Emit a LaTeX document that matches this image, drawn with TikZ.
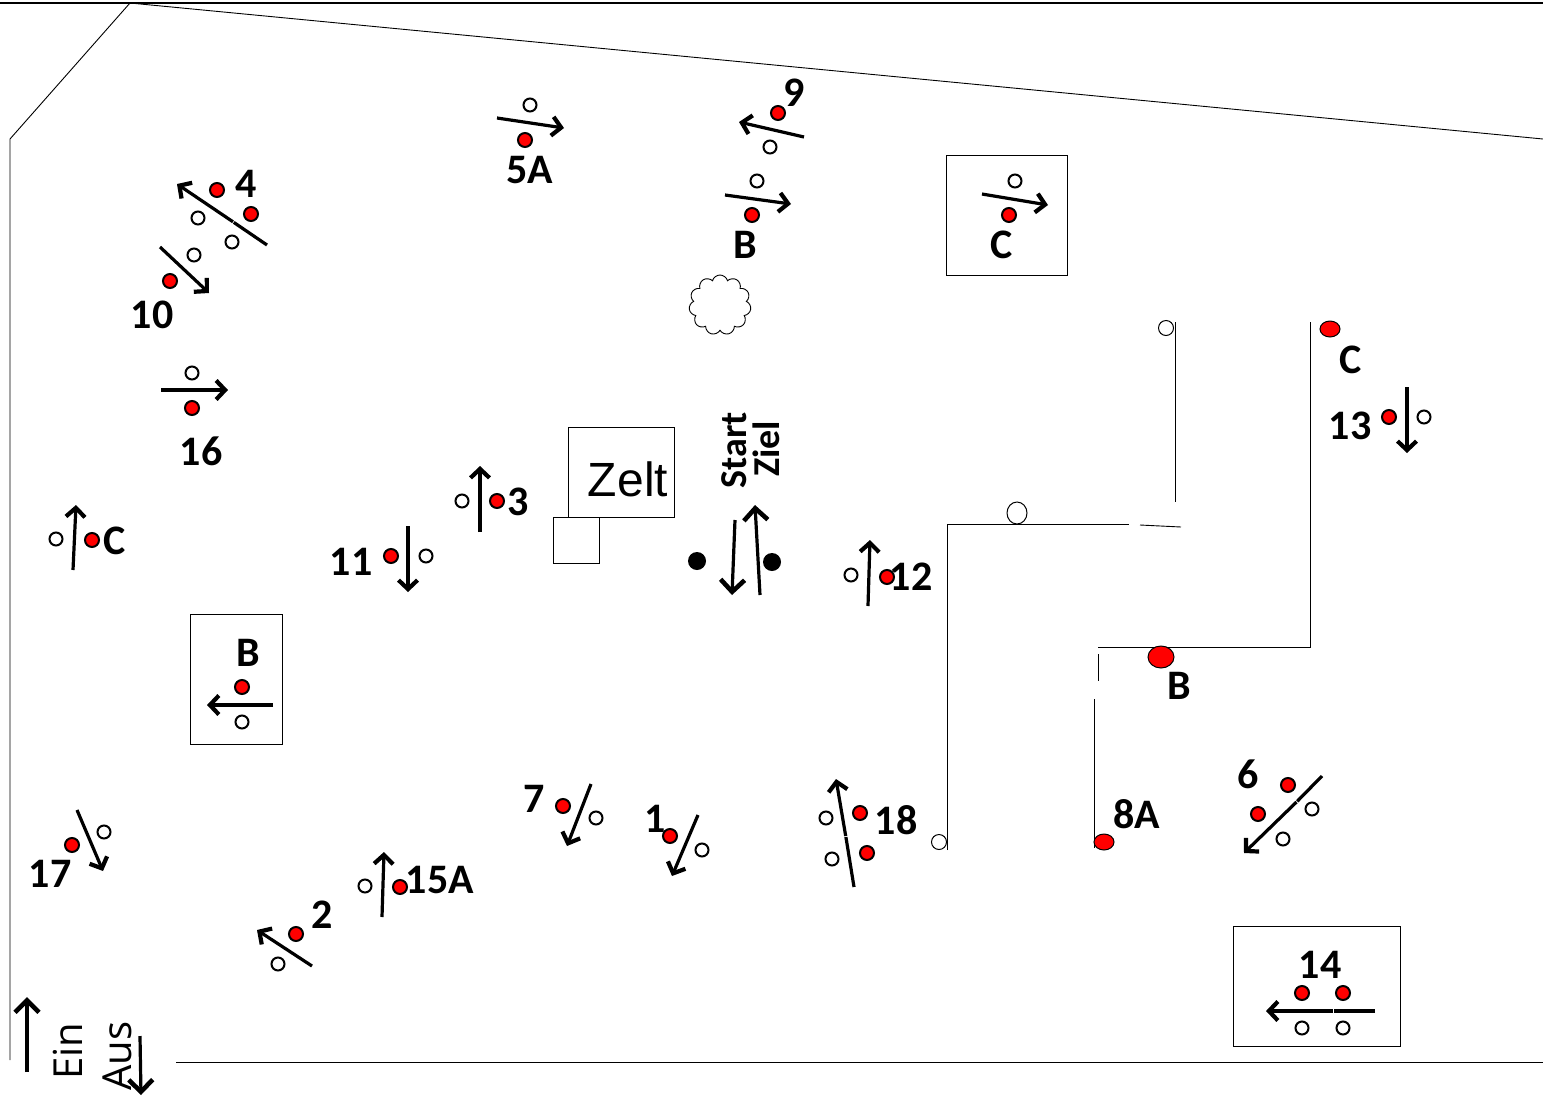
\documentclass[tikz,border=0pt]{standalone}
\usepackage{fontspec}
\setmainfont{Carlito}
\newfontfamily\zeltfont{Liberation Sans}
\newfontfamily\einfont{Open Sans}
\usetikzlibrary{arrows.meta,shapes.symbols,shapes.geometric}
\tikzset{
  >={Straight Barb[length=9pt,width=19pt,line width=4.2pt]},
  gate/.style={->,line width=3.2pt},
  biggate/.style={-{Straight Barb[length=12pt,width=24pt,line width=4.6pt]},line width=3.2pt},
  halfgate/.style={line width=3.2pt},
  wall/.style={line width=0.9pt},
  field/.style={draw,line width=0.8pt},
  redpost/.style={circle,draw,line width=2pt,fill=red,inner sep=0pt,minimum size=14pt},
  whitepost/.style={circle,draw,line width=2pt,fill=white,inner sep=0pt,minimum size=13pt},
  bigpost/.style={ellipse,draw,line width=1pt,inner sep=0pt},
  lbl/.style={inner sep=0pt,font=\fontsize{42}{42}\selectfont\bfseries},
  note/.style={inner sep=0pt,rotate=90,font=\fontsize{38}{38}\selectfont\bfseries}
}
\begin{document}
\begin{tikzpicture}[x=1pt,y=-1pt]
    \useasboundingbox (0,0) rectangle (1543,1096);

    % Draw the outline of the ground
    \draw[line width=1.6pt] (0,3) -- (1543,3);
    \draw[wall] (10,1060) -- (10,139) -- (130,3) -- (1543,139);
    \draw[wall] (176,1062) -- (1543,1062);

    % Draw the tent, the bush and the three boxes
    \draw[field] (568.5,427) rectangle (674.5,517);
    \draw[field,fill=white] (553.5,517) rectangle (599,563);
    \node[inner sep=0pt,font=\fontsize{48}{48}\selectfont\zeltfont] (zelt) at (628,479) {Zelt};
    \node[cloud,draw,line width=0.9pt,cloud puffs=11,aspect=1,inner sep=0pt,minimum width=62pt,minimum height=60pt] (bush) at (720,305) {};
    \draw[field] (946.5,155) rectangle (1067,275);
    \draw[field] (190.5,614) rectangle (282,744);
    \draw[field] (1233.5,926) rectangle (1400,1046);

    % Draw the walls of the course on the right
    \draw[wall] (947,850) -- (947,524) -- (1129,524);
    \draw[wall] (1140,525) -- (1181,527);
    \draw[wall] (1175,322) -- (1175,502);
    \draw[wall] (1310,322) -- (1310,647) -- (1098,647);
    \draw[wall] (1098,654) -- (1098,681);
    \draw[wall] (1094,699) -- (1094,848);

    % Draw the posts on the walls
    \node[whitepost,line width=1pt,minimum size=15pt] (w1) at (1166,328) {};
    \node[whitepost,line width=1pt,minimum size=15pt] (w2) at (939,842) {};
    \node[bigpost,fill=white,minimum width=20pt,minimum height=22pt] (w3) at (1017,513) {};
    \node[bigpost,fill=red,minimum width=20pt,minimum height=16pt] (r1) at (1330,329) {};
    \node[bigpost,fill=red,minimum width=26pt,minimum height=22pt] (r2) at (1161,657) {};
    \node[bigpost,fill=red,minimum width=20pt,minimum height=16pt] (r3) at (1104,842) {};
    \node[lbl] (lc3) at (1351,360) {C};
    \node[lbl] (lb2) at (1179,686) {B};
    \node[lbl] (l8a) at (1137,814) {8A};

    % Draw start and finish
    \node[circle,fill=black,inner sep=0pt,minimum size=18pt] (s1) at (697,561) {};
    \node[circle,fill=black,inner sep=0pt,minimum size=18pt] (s2) at (772,562) {};
    \draw[biggate] (735,520) -- (732,595);
    \draw[biggate] (760,595) -- (755,505);
    \node[note] (start) at (734,450) {Start};
    \node[note] (ziel) at (766,449) {Ziel};

    % Draw the obstacles in the upper half
    \draw[gate] (804,137) -- (739,122);
    \node[redpost] (p9a) at (778,113) {};
    \node[whitepost] (p9b) at (770,147) {};
    \node[lbl] (l9) at (794,93) {9};

    \draw[gate] (725,195) -- (791,204);
    \node[whitepost] (pba) at (757,181) {};
    \node[redpost] (pbb) at (752,215) {};
    \node[lbl] (lb1) at (745,245) {B};

    \draw[gate] (982,194) -- (1048,205);
    \node[whitepost] (pca) at (1015,181) {};
    \node[redpost] (pcb) at (1009,215) {};
    \node[lbl] (lc1) at (1002,245) {C};

    \draw[gate] (497,118) -- (564,128);
    \node[whitepost] (p5a) at (530,105) {};
    \node[redpost] (p5b) at (525,140) {};
    \node[lbl] (l5) at (530,170) {5A};

    \draw[gate] (233,221.8) -- (177,184);
    \draw[halfgate] (267,245) -- (233.8,222.4);
    \node[redpost] (p4a) at (217,190) {};
    \node[redpost] (p4b) at (251,214) {};
    \node[whitepost] (p4c) at (198,218) {};
    \node[whitepost] (p4d) at (232,242) {};
    \node[lbl] (l4) at (246,184) {4};

    \draw[gate] (160,247) -- (209,293);
    \node[whitepost] (p10a) at (194,255) {};
    \node[redpost] (p10b) at (170,281) {};
    \node[lbl] (l10) at (152,315) {10};

    \draw[gate] (161,390) -- (228,390);
    \node[whitepost] (p16a) at (192,373) {};
    \node[redpost] (p16b) at (192,408) {};
    \node[lbl] (l16) at (201,451) {16};

    \draw[gate] (1407,387) -- (1407,453);
    \node[redpost] (p13a) at (1389,417) {};
    \node[whitepost] (p13b) at (1424,417) {};
    \node[lbl] (l13) at (1350,426) {13};

    % Draw the obstacles in the middle
    \draw[gate] (73,570) -- (76,505);
    \node[whitepost] (pda) at (56,539) {};
    \node[redpost] (pdb) at (92,540) {};
    \node[lbl] (lc2) at (115,541) {C};

    \draw[gate] (480,532) -- (480,466);
    \node[whitepost] (p3a) at (462,501) {};
    \node[redpost] (p3b) at (497,501) {};
    \node[lbl] (l3) at (518,502) {3};

    \draw[gate] (408,526) -- (408,592);
    \node[redpost] (p11a) at (391,556) {};
    \node[whitepost] (p11b) at (426,556) {};
    \node[lbl] (l11) at (351,562) {11};

    \draw[gate] (868,606) -- (870,540);
    \node[whitepost] (p12a) at (851,575) {};
    \node[redpost] (p12b) at (887,577) {};
    \node[lbl] (l12) at (911,577) {12};

    \draw[gate] (273,705) -- (207,705);
    \node[redpost] (pea) at (242,687) {};
    \node[whitepost] (peb) at (242,722) {};
    \node[lbl] (lb3) at (248,653) {B};

    % Draw the obstacles in the lower half
    \draw[gate] (77,810) -- (103,871);
    \node[whitepost] (p17a) at (104,832) {};
    \node[redpost] (p17b) at (72,845) {};
    \node[lbl] (l17) at (50,874) {17};

    \draw[gate] (312,966) -- (257,930);
    \node[redpost] (p2a) at (296,934) {};
    \node[whitepost] (p2b) at (278,964) {};
    \node[lbl] (l2) at (322,915) {2};

    \draw[gate] (382,917) -- (384,852);
    \node[whitepost] (p15a) at (365,886) {};
    \node[redpost] (p15b) at (400,887) {};
    \node[lbl] (l15) at (440,880) {15A};

    \draw[gate] (591,784) -- (567,846);
    \node[redpost] (p7a) at (563,806) {};
    \node[whitepost] (p7b) at (596,818) {};
    \node[lbl] (l7) at (534,799) {7};

    \draw[gate] (698,815) -- (672,876);
    \node[redpost] (p1a) at (670,836) {};
    \node[whitepost] (p1b) at (702,850) {};
    \node[lbl] (l1) at (655,819) {1};

    \draw[gate] (845.7,836) -- (836,779);
    \draw[halfgate] (854,887) -- (845.9,837);
    \node[whitepost] (p18a) at (826,818) {};
    \node[whitepost] (p18b) at (832,859) {};
    \node[redpost] (p18c) at (860,813) {};
    \node[redpost] (p18d) at (867,853) {};
    \node[lbl] (l18) at (896,820) {18};

    \draw[gate] (1296.5,802) -- (1244,853);
    \draw[halfgate] (1322,776) -- (1297.2,801.3);
    \node[redpost] (p6a) at (1288,785) {};
    \node[redpost] (p6b) at (1258,814) {};
    \node[whitepost] (p6c) at (1312,809) {};
    \node[whitepost] (p6d) at (1283,839) {};
    \node[lbl] (l6) at (1248,774) {6};

    \draw[gate] (1333,1011) -- (1266,1011);
    \draw[halfgate] (1375,1011) -- (1334,1011);
    \node[redpost] (p14a) at (1302,993) {};
    \node[redpost] (p14b) at (1343,993) {};
    \node[whitepost] (p14c) at (1302,1028) {};
    \node[whitepost] (p14d) at (1343,1028) {};
    \node[lbl] (l14) at (1320,965) {14};

    % Draw the way in and out
    \draw[biggate] (27,1072) -- (27,997);
    \draw[biggate] (140,1036) -- (141,1095);
    \node[inner sep=0pt,rotate=90,font=\fontsize{40}{40}\selectfont\einfont] (ein) at (68,1051) {Ein};
    \node[inner sep=0pt,rotate=90,font=\fontsize{40}{40}\selectfont\einfont] (aus) at (117,1056) {Aus};
\end{tikzpicture}
\end{document}
